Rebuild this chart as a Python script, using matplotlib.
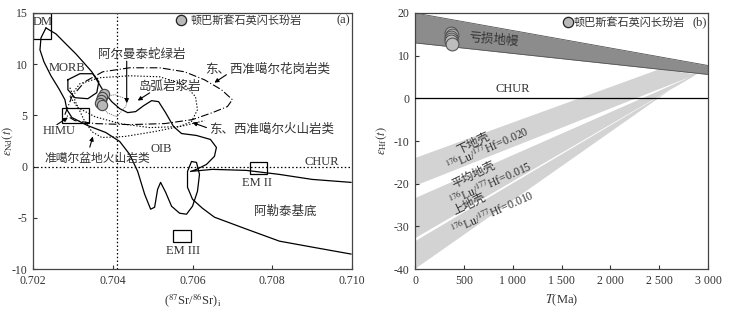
import matplotlib
matplotlib.use('Agg')
import matplotlib.pyplot as plt
from matplotlib.patches import Rectangle, Polygon

plt.rcParams['font.family'] = ['Liberation Serif', 'Noto Sans CJK SC']
plt.rcParams['mathtext.fontset'] = 'stix'
plt.rcParams['axes.unicode_minus'] = False

# ---------------- Panel (a) data ----------------
sample_sr = [0.70378, 0.70374, 0.70371, 0.70369, 0.70373]
sample_nd = [7.1, 6.8, 6.5, 6.25, 6.05]

array_left_x = [0.702325, 0.7022, 0.702175, 0.702275, 0.70245, 0.70265, 0.7028, 0.70285,
                0.702975, 0.703375, 0.703825, 0.704175, 0.704425, 0.704625, 0.7048, 0.70495,
                0.70505, 0.705125, 0.7052, 0.705325, 0.705475, 0.705675, 0.70585, 0.706,
                0.706125, 0.706175, 0.7061, 0.705975, 0.705875, 0.705875, 0.706, 0.70625,
                0.70655, 0.70735, 0.70818, 0.709, 0.709975]
array_left_y = [13.54, 12.57, 11.4, 10.23, 8.87, 7.6, 6.54, 5.56,
                4.79, 4.0, 3.33, 2.45, 1.19, -0.47, -2.7, -4.16,
                -3.97, -2.22, -1.54, -2.5, -3.87, -4.55, -4.65, -3.87,
                -2.41, -0.76, 0.41, 0.5, -0.47, -2.02, -3.19, -4.07,
                -4.94, -6.1, -7.28, -7.86, -8.54]

array_right_x = [0.702325, 0.702575, 0.702825, 0.703075, 0.703275, 0.703475, 0.703625, 0.703775,
                 0.703975, 0.704175, 0.704375, 0.704575, 0.704775, 0.704975, 0.70515, 0.705325,
                 0.705525, 0.705725, 0.7061, 0.70645, 0.7066, 0.70655, 0.70635, 0.7061, 0.70595,
                 0.7065, 0.70735, 0.708175, 0.709, 0.709975]
array_right_y = [13.54, 12.96, 11.98, 11.01, 10.14, 9.26, 8.29, 7.32,
                 6.34, 5.66, 5.27, 5.37, 5.95, 6.44, 6.34, 5.27,
                 3.91, 3.23, 3.04, 2.65, 1.87, 1.0, 0.21, -0.27, -0.47,
                 -0.27, -0.37, -0.76, -1.25, -1.54]

morb_x = [0.702875, 0.703175, 0.7035, 0.70365, 0.7036, 0.703375, 0.70305, 0.702875, 0.702875]
morb_y = [8.48, 9.07, 9.07, 8.29, 7.22, 6.63, 6.73, 7.51, 8.48]

granite_x = [0.7028, 0.702975, 0.7033, 0.70375, 0.704425, 0.705175, 0.7058, 0.7063, 0.706725,
             0.707, 0.706875, 0.7065, 0.706, 0.7053, 0.704425, 0.70355, 0.70305, 0.7028]
granite_y = [5.08, 6.83, 8.29, 9.26, 9.65, 9.65, 9.26, 8.48, 7.51,
             6.54, 5.86, 5.27, 4.59, 4.2, 4.1, 4.2, 4.49, 5.08]

arc_x = [0.702925, 0.703175, 0.703675, 0.704425, 0.705175, 0.7058, 0.706075, 0.706125,
         0.705975, 0.705675, 0.704925, 0.704175, 0.70355, 0.703125, 0.702925]
arc_y = [6.83, 8.09, 8.68, 8.87, 8.77, 8.0, 6.83, 5.56,
         4.4, 3.91, 3.81, 4.2, 4.88, 5.76, 6.83]

basin_x = [0.702925, 0.703075, 0.703275, 0.703475, 0.703725, 0.7043, 0.70505, 0.7058, 0.7063]
basin_y = [7.7, 6.25, 4.59, 3.42, 2.84, 2.94, 3.42, 4.01, 4.49]

ophiolite_x = [0.70375, 0.70405, 0.704375, 0.704325, 0.7041, 0.70385, 0.703725, 0.70375]
ophiolite_y = [6.83, 7.02, 6.54, 5.86, 4.88, 5.27, 6.25, 6.83]

# reservoir boxes: (x0, x1, y0, y1)
box_x0 = [0.7020, 0.702725, 0.70743, 0.7055]
box_x1 = [0.70245, 0.7034, 0.70788, 0.70595]
box_y0 = [12.5, 4.3, -0.75, -7.37]
box_y1 = [15.0, 5.76, 0.41, -6.2]

bse_sr = 0.7041
chur_nd = 0.0

a_xticks = [0.702, 0.704, 0.706, 0.708, 0.710]
a_xticklabels = ['0.702', '0.704', '0.706', '0.708', '0.710']
a_yticks = [15, 10, 5, 0, -5, -10]
a_yticklabels = ['15', '10', '5', '0', '-5', '-10']

# ---------------- Panel (b) data ----------------
sample_t = [372, 374, 371, 373, 372, 374]
sample_hf = [15.3, 14.9, 14.4, 13.9, 13.4, 12.8]

dm_t = [0, 3000]
dm_top = [20, 7.7]
dm_bottom = [13, 5.6]

crust_labels = ['下地壳', '平均地壳', '上地壳']
crust_ratio = ['0.020', '0.015', '0.010']
crust_top0 = [-14.0, -23.4, -33.5]
crust_bot0 = [-20.5, -32.8, -40.0]
crust_top_end_t = [2500, 2880, 2880]
crust_top_end_e = [6.8, 5.6, 5.6]
crust_bot_end_t = [2880, 2880, 2840]
crust_bot_end_e = [5.6, 5.6, 5.6]
crust_label_t = [594, 604, 553]
crust_label_e = [-10.6, -18.0, -25.0]
crust_ratio_t = [737, 768, 788]
crust_ratio_e = [-11.7, -19.7, -26.7]

b_xticks = [0, 500, 1000, 1500, 2000, 2500, 3000]
b_xticklabels = ['0', '500', '1 000', '1 500', '2 000', '2 500', '3 000']
b_yticks = [-40, -30, -20, -10, 0, 10, 20]
b_yticklabels = ['-40', '-30', '-20', '-10', '0', '10', '20']

TXT = '#333333'
fig = plt.figure(figsize=(7.3, 3.14), dpi=100)
axa = fig.add_axes([0.0452, 0.1433, 0.437, 0.8153])
axb = fig.add_axes([0.5685, 0.1433, 0.4014, 0.8153])

# ---------- panel a ----------
axa.set_xlim(0.702, 0.710)
axa.set_ylim(-10, 15)
axa.axhline(chur_nd, color='k', lw=0.9, ls=(0, (1.2, 1.8)))
axa.axvline(bse_sr, color='k', lw=0.9, ls=(0, (1.2, 1.8)))
axa.plot(array_left_x, array_left_y, color='k', lw=0.9)
axa.plot(array_right_x, array_right_y, color='k', lw=0.9)
axa.plot(morb_x, morb_y, color='k', lw=0.9)
axa.plot(granite_x, granite_y, color='k', lw=0.8, ls=(0, (7, 2, 1, 2)))
axa.plot(arc_x, arc_y, color='k', lw=0.8, ls=(0, (1.2, 1.6)))
axa.plot(basin_x, basin_y, color='k', lw=0.8, ls=(0, (1.2, 1.6)))
axa.plot(ophiolite_x, ophiolite_y, color='#555555', lw=0.6, ls=(0, (1.2, 1.2)))
for x0, x1, y0, y1 in zip(box_x0, box_x1, box_y0, box_y1):
    axa.add_patch(Rectangle((x0, y0), x1 - x0, y1 - y0, fill=False, ec='k', lw=0.9))
axa.scatter(sample_sr, sample_nd, s=55, c='#b8b8b8', edgecolors='#444444', linewidths=0.8, zorder=5)

fs = 9
axa.text(0.70225, 14.1, 'DM', fontsize=fs, ha='center', va='center', color=TXT)
axa.text(0.70285, 9.65, 'MORB', fontsize=fs, ha='center', va='center', color=TXT)
axa.text(0.70265, 3.5, 'HIMU', fontsize=fs, ha='center', va='center', color=TXT)
axa.text(0.70522, 1.75, 'OIB', fontsize=fs, ha='center', va='center', color=TXT)
axa.text(0.707625, -1.63, 'EM II', fontsize=fs, ha='center', va='center', color=TXT)
axa.text(0.705775, -8.25, 'EM III', fontsize=fs, ha='center', va='center', color=TXT)
axa.text(0.70925, 0.45, 'CHUR', fontsize=fs, ha='center', va='center', color=TXT)
axa.text(0.70833, -4.36, '阿勒泰基底', fontsize=fs, ha='center', va='center', color=TXT)
axa.text(0.704725, 10.9, '阿尔曼泰蛇绿岩', fontsize=fs, ha='center', va='center', color=TXT)
axa.text(0.705425, 7.8, '岛弧岩浆岩', fontsize=fs, ha='center', va='center', color=TXT)
axa.text(0.707875, 9.45, '东、西准噶尔花岗岩类', fontsize=fs, ha='center', va='center', color=TXT)
axa.text(0.707975, 3.6, '东、西准噶尔火山岩类', fontsize=fs, ha='center', va='center', color=TXT)
axa.text(0.70362, 0.75, '准噶尔盆地火山岩类', fontsize=8.5, ha='center', va='center', color=TXT)

ap = dict(arrowstyle='-|>', lw=0.8, color='k', mutation_scale=6, shrinkA=0, shrinkB=0)
axa.annotate('', xy=(0.70435, 6.2), xytext=(0.70435, 10.3), arrowprops=ap)
axa.annotate('', xy=(0.704625, 6.45), xytext=(0.704925, 7.2), arrowprops=ap)
axa.annotate('', xy=(0.70655, 8.2), xytext=(0.70685, 8.97), arrowprops=ap)
axa.annotate('', xy=(0.706, 4.3), xytext=(0.70635, 3.81), arrowprops=ap)
axa.annotate('', xy=(0.7035, 2.94), xytext=(0.703425, 1.9), arrowprops=ap)
axa.annotate('', xy=(0.702875, 4.79), xytext=(0.7026, 4.1), arrowprops=ap)

axa.set_xticks(a_xticks)
axa.set_xticklabels(a_xticklabels)
axa.set_yticks(a_yticks)
axa.set_yticklabels(a_yticklabels)
axa.set_xlabel(r'($^{87}$Sr/$^{86}$Sr)$_{\rm i}$', fontsize=9, color=TXT, labelpad=4)
axa.set_ylabel(r'$\varepsilon_{\rm Nd}(t)$', fontsize=9, color=TXT)
axa.yaxis.set_label_coords(-0.056, 0.5)

axa.scatter([0.7057], [14.3], s=55, c='#b8b8b8', edgecolors='#222222', linewidths=0.9, clip_on=False, zorder=6)
axa.text(0.70595, 14.3, '顿巴斯套石英闪长玢岩', fontsize=8, ha='left', va='center', color=TXT)
axa.text(0.70995, 14.3, '(a)', fontsize=9, ha='right', va='center', color=TXT)

# ---------- panel b ----------
axb.set_xlim(0, 3000)
axb.set_ylim(-40, 20)
for i in range(3):
    poly = [(0, crust_top0[i]), (crust_top_end_t[i], crust_top_end_e[i]),
            (crust_bot_end_t[i], crust_bot_end_e[i]), (0, crust_bot0[i])]
    axb.add_patch(Polygon(poly, closed=True, fc='#d3d3d3', ec='none', zorder=1))
axb.fill_between(dm_t, dm_bottom, dm_top, color='#8c8c8c', lw=0, zorder=2)
axb.plot(dm_t, dm_top, color='#555555', lw=0.6, zorder=2)
axb.plot(dm_t, dm_bottom, color='#555555', lw=0.6, zorder=2)
axb.axhline(0, color='k', lw=0.9, zorder=3)
axb.text(1000, 2.1, 'CHUR', fontsize=fs, ha='center', va='center', color=TXT)
axb.text(800, 13.7, '亏损地幔', fontsize=fs, ha='center', va='center', color=TXT, rotation=-5)
for i in range(3):
    axb.text(crust_label_t[i], crust_label_e[i], crust_labels[i], fontsize=8.5, ha='center',
             va='center', color=TXT, rotation=26)
    axb.text(crust_ratio_t[i], crust_ratio_e[i],
             r'$^{176}$Lu/$^{177}$Hf=' + crust_ratio[i], fontsize=8.5, ha='center',
             va='center', color=TXT, rotation=24)
axb.scatter(sample_t, sample_hf, s=85, c='#bdbdbd', edgecolors='#555555', linewidths=0.8, zorder=5)

axb.set_xticks(b_xticks)
axb.set_xticklabels(b_xticklabels)
axb.set_yticks(b_yticks)
axb.set_yticklabels(b_yticklabels)
axb.set_xlabel(r'$T$(Ma)', fontsize=9, color=TXT, labelpad=4)
axb.set_ylabel(r'$\varepsilon_{\rm Hf}(t)$', fontsize=9, color=TXT)
axb.yaxis.set_label_coords(-0.088, 0.5)

axb.scatter([1565], [17.9], s=55, c='#b8b8b8', edgecolors='#222222', linewidths=0.9, zorder=6)
axb.text(1620, 17.9, '顿巴斯套石英闪长玢岩', fontsize=8, ha='left', va='center', color=TXT)
axb.text(2990, 17.9, '(b)', fontsize=9, ha='right', va='center', color=TXT)

for ax in (axa, axb):
    ax.tick_params(direction='in', length=3, width=0.8, labelsize=8.5, colors='#333333', pad=4)
    for sp in ax.spines.values():
        sp.set_color('#444444')
        sp.set_linewidth(0.9)

fig.savefig('out.png', dpi=100)
